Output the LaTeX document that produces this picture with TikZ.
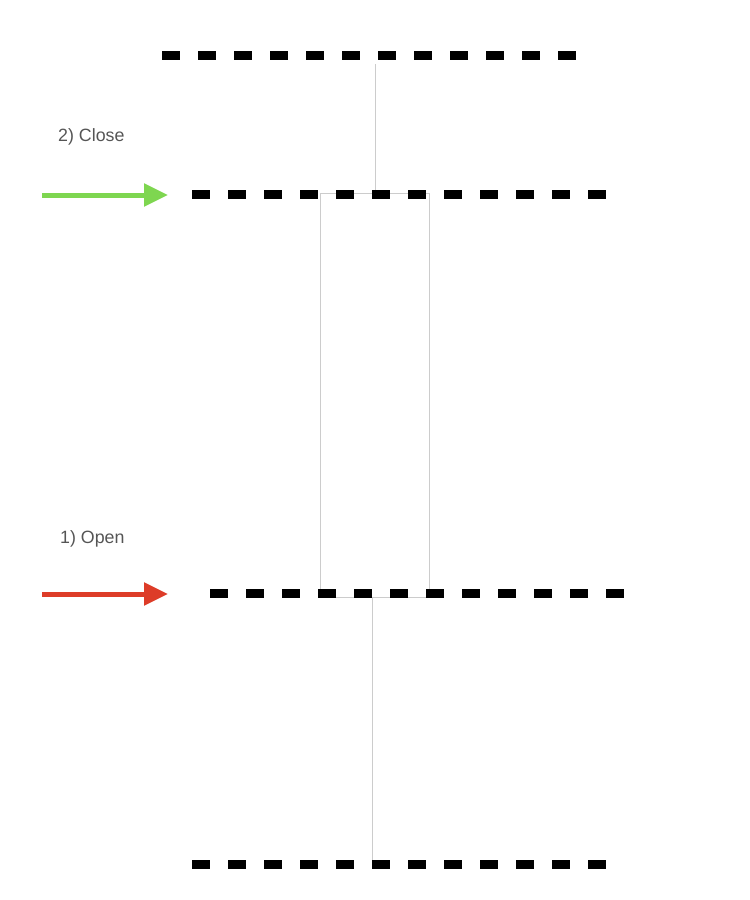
\documentclass[tikz,border=0pt]{standalone}
\usepackage{fontspec}
\setmainfont{Liberation Sans}
\usetikzlibrary{arrows.meta}
\definecolor{closegreen}{RGB}{126,214,80}
\definecolor{openred}{RGB}{221,60,40}
\definecolor{wiregray}{RGB}{204,204,204}
\definecolor{labelgray}{RGB}{85,85,85}
\tikzset{
    barrier/.style={line width=9pt, dash pattern=on 18pt off 18pt},
    wire/.style={draw=wiregray, line width=1pt},
    push/.style={line width=5pt, -{Triangle[length=24pt, width=22pt]}},
    steplabel/.style={anchor=west, inner sep=0pt, text=labelgray, font=\fontsize{17.8}{21}\selectfont}
}

\begin{document}
\begin{tikzpicture}[x=1pt, y=-1pt]
                \useasboundingbox (0, 0) rectangle (750, 900);

                \node[wire, rectangle, minimum width=109pt, minimum height=404pt, inner sep=0pt] (gap) at (374.5, 395) {};

                \coordinate (top end) at (375, 64);
                \coordinate (bottom end) at (372, 862);

                \draw[wire] (top end)--(top end |- gap.north);
                \draw[wire] (bottom end |- gap.south)--(bottom end);

                \draw[barrier] (162, 55) -- (576, 55);
                \draw[barrier] (192, 194) -- (606, 194);
                \draw[barrier] (210, 593) -- (624, 593);
                \draw[barrier] (192, 864) -- (606, 864);

                \coordinate (close start) at (42, 195);
                \coordinate (close end) at (168, 195);
                \coordinate (open start) at (42, 594);
                \coordinate (open end) at (168, 594);

                \draw[push, closegreen] (close start)--(close end);
                \draw[push, openred] (open start)--(open end);

                \node[steplabel] (close label) at (58, 137) {2) Close};
                \node[steplabel] (open label) at (60, 539) {1) Open};
            \end{tikzpicture}
\end{document}
